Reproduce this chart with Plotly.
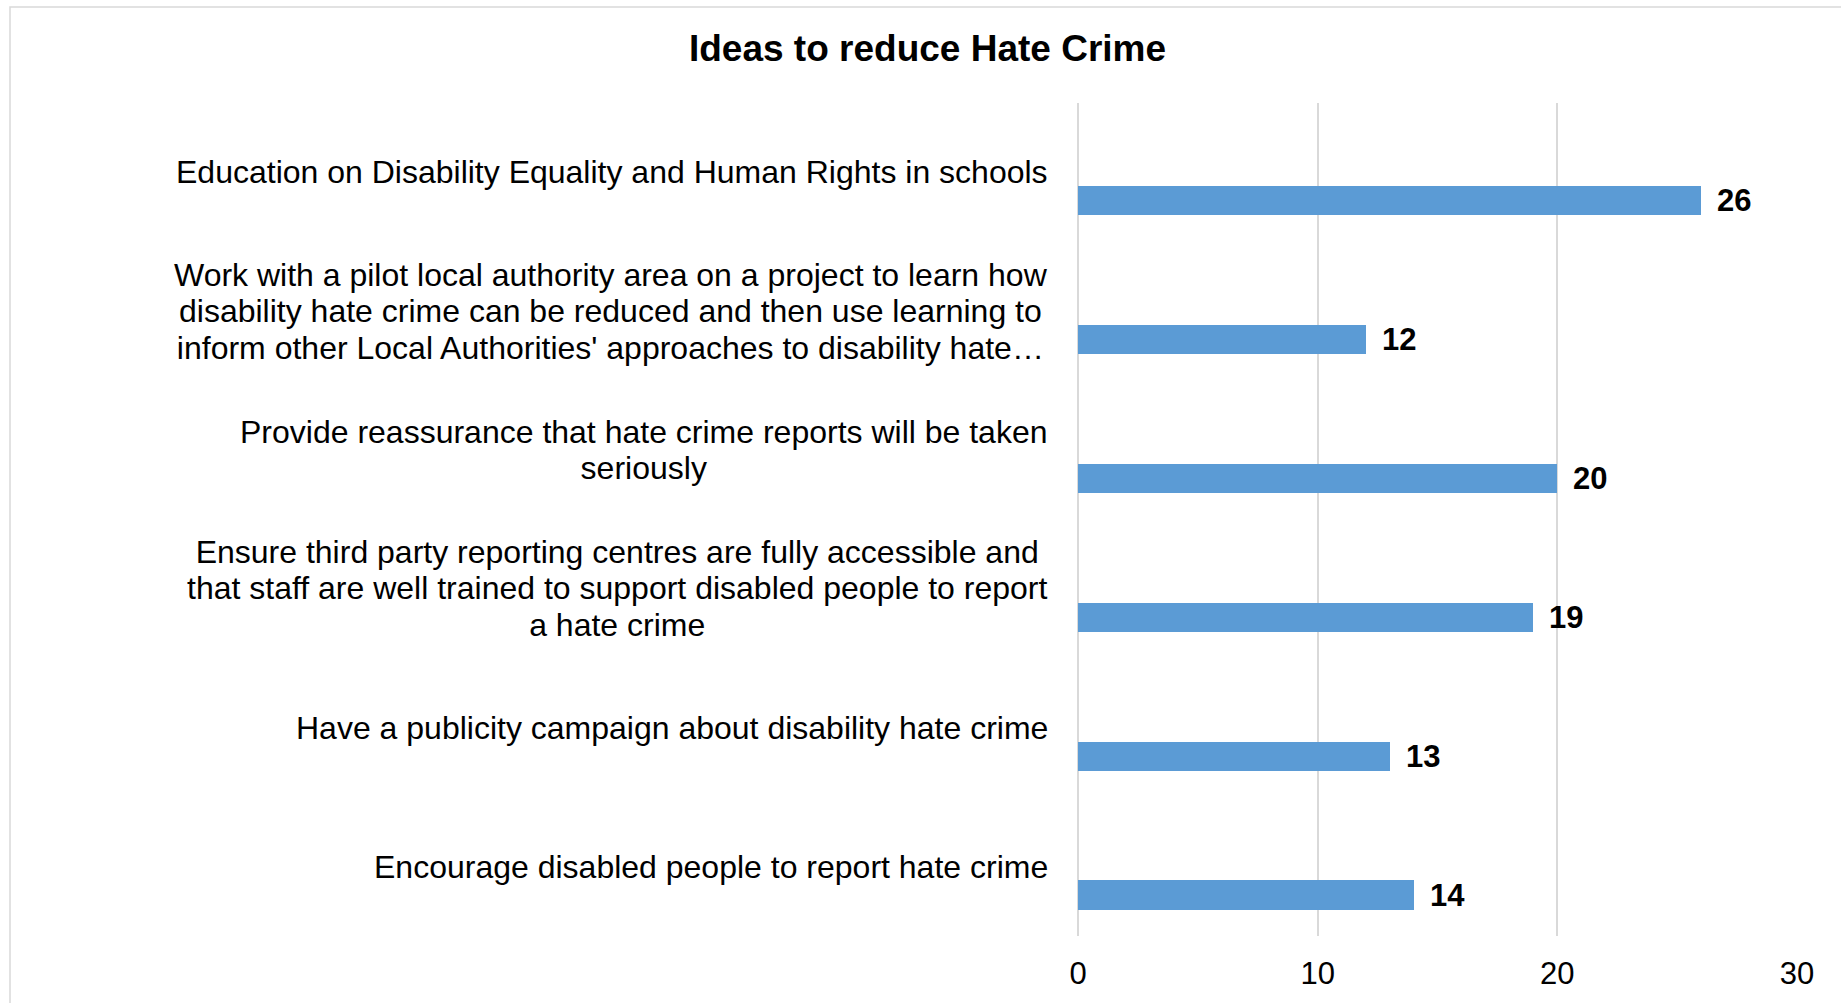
import plotly.graph_objects as go

# Survey responses: ideas to reduce disability hate crime
categories = [
    "Education on Disability Equality and Human Rights in schools",
    "Work with a pilot local authority area on a project to learn how<br>"
    "disability hate crime can be reduced and then use learning to<br>"
    "inform other Local Authorities' approaches to disability hate\u2026",
    "Provide reassurance that hate crime reports will be taken<br>seriously",
    "Ensure third party reporting centres are fully accessible and<br>"
    "that staff are well trained to support disabled people to report<br>"
    "a hate crime",
    "Have a publicity campaign about disability hate crime",
    "Encourage disabled people to report hate crime",
]
counts = [26, 12, 20, 19, 13, 14]
x_ticks = [0, 10, 20, 30]

TITLE = "Ideas to reduce Hate Crime"
FONT = "Liberation Sans, Arial, sans-serif"
BAR_COLOR = "#5B9BD5"
GRID_COLOR = "#D9D9D9"

# bars sit in the lower part of each category band
BAR_WIDTH = 0.21
BAR_OFFSET = 0.10

MARGIN_L, MARGIN_R, MARGIN_T, MARGIN_B = 1078, 44, 103, 62
PLOT_W = 1841 - MARGIN_L - MARGIN_R
PLOT_H = 1003 - MARGIN_T - MARGIN_B
PLOT_BOTTOM = 1003 - MARGIN_B

positions = list(range(len(categories)))

fig = go.Figure()
fig.add_trace(go.Bar(
    x=counts,
    y=positions,
    orientation="h",
    width=BAR_WIDTH,
    offset=BAR_OFFSET,
    marker=dict(color=BAR_COLOR, line=dict(width=0)),
    hoverinfo="x",
    showlegend=False,
))

annotations = []

# value labels to the right of each bar
for i, v in enumerate(counts):
    annotations.append(dict(
        x=v, y=i + BAR_OFFSET + BAR_WIDTH / 2,
        xref="x", yref="y",
        text=f"<b>{v}</b>",
        showarrow=False,
        xanchor="left", yanchor="middle",
        xshift=14,
        font=dict(family=FONT, size=31, color="#000000"),
    ))

# category labels, centred line by line, right edge next to the plot
for i, label in enumerate(categories):
    lines = label.split("<br>")
    styled = "<br>".join(f'<span style="font-size:32px">{ln}</span>' for ln in lines)
    annotations.append(dict(
        x=0, y=i,
        xref="paper", yref="y",
        text=styled,
        showarrow=False,
        xanchor="right", yanchor="middle",
        align="center",
        xshift=-28,
        font=dict(family=FONT, size=28, color="#000000"),
    ))

fig.update_layout(
    width=1841,
    height=1003,
    autosize=False,
    margin=dict(l=MARGIN_L, r=MARGIN_R, t=MARGIN_T, b=MARGIN_B),
    paper_bgcolor="#FFFFFF",
    plot_bgcolor="#FFFFFF",
    title=dict(
        text=f"<b>{TITLE}</b>",
        x=927.5 / 1841, xref="container", xanchor="center",
        y=1 - 48 / 1003, yref="container", yanchor="middle",
        font=dict(family=FONT, size=37, color="#000000"),
    ),
    xaxis=dict(
        range=[0, 30],
        tickvals=x_ticks,
        ticktext=[str(t) for t in x_ticks],
        showgrid=True,
        gridcolor=GRID_COLOR,
        gridwidth=1.5,
        zeroline=True,
        zerolinecolor=GRID_COLOR,
        zerolinewidth=1.5,
        showline=False,
        ticks="",
        ticklabelstandoff=16,
        tickfont=dict(family=FONT, size=31, color="#000000"),
        fixedrange=True,
    ),
    yaxis=dict(
        range=[len(categories) - 0.5, -0.5],
        showgrid=False,
        zeroline=False,
        showline=False,
        showticklabels=False,
        ticks="",
        fixedrange=True,
    ),
    annotations=annotations,
    shapes=[
        # light frame around the chart area
        dict(
            type="rect",
            xref="paper", yref="paper",
            x0=(10 - MARGIN_L) / PLOT_W, x1=(1860 - MARGIN_L) / PLOT_W,
            y0=(PLOT_BOTTOM - 1020) / PLOT_H, y1=(PLOT_BOTTOM - 6.5) / PLOT_H,
            line=dict(color=GRID_COLOR, width=1.5),
            fillcolor="rgba(0,0,0,0)",
            layer="below",
        )
    ],
    bargap=0,
)

fig.write_html("out.html")
